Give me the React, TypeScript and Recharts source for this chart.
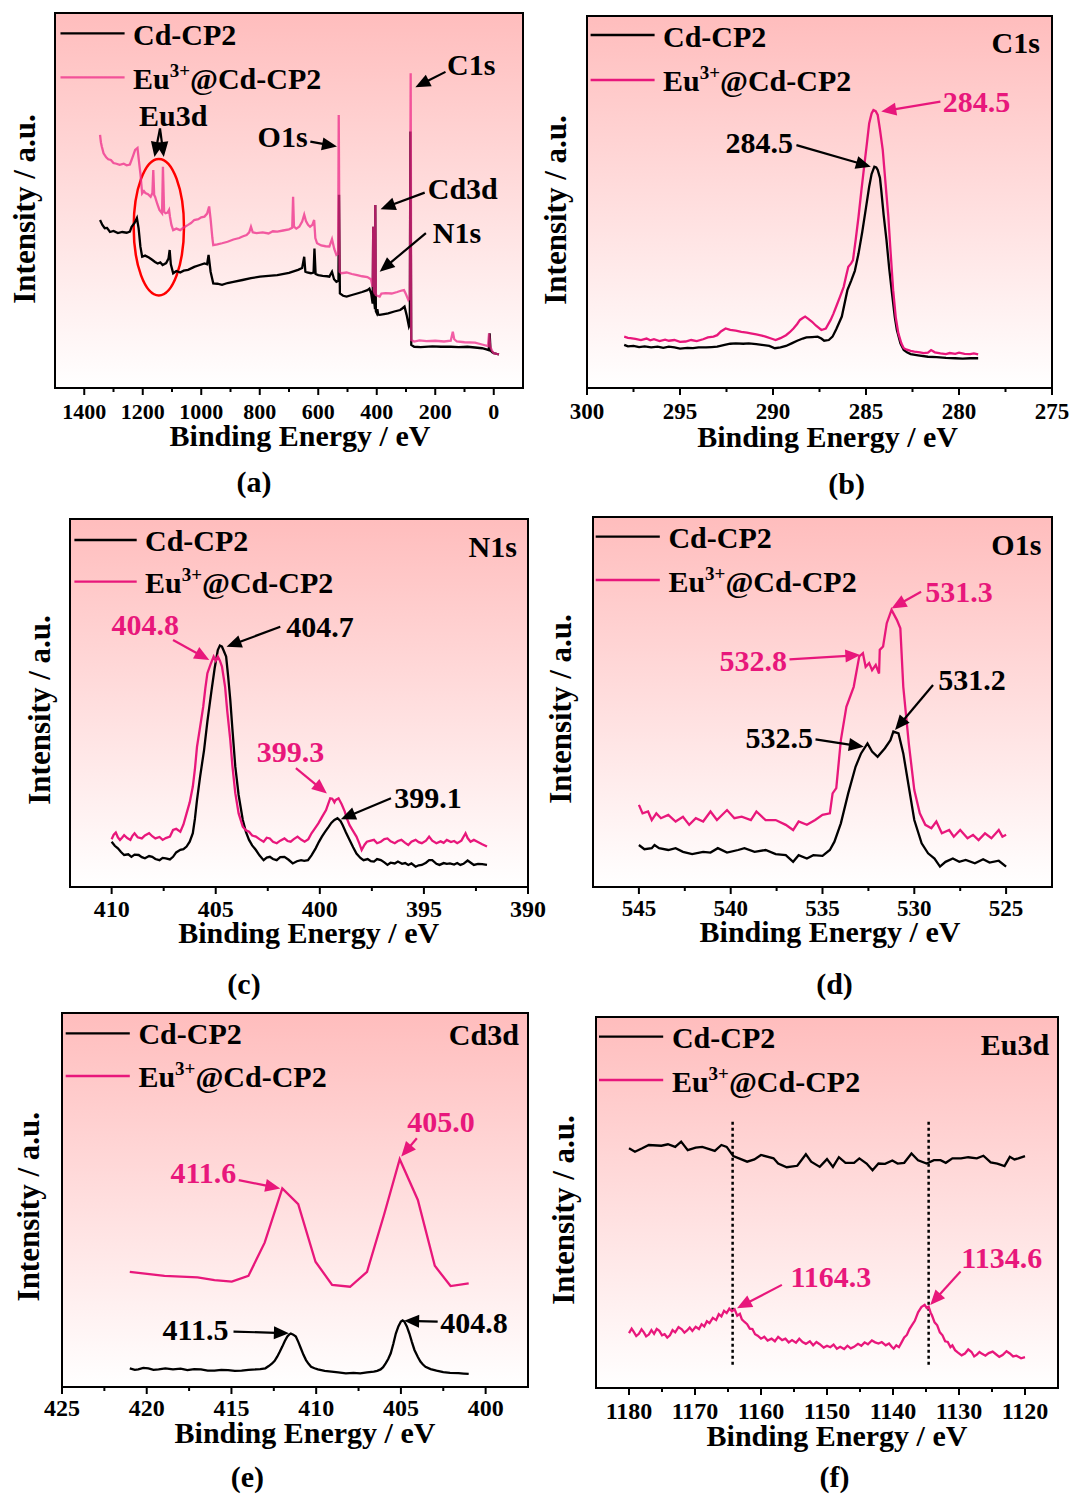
import React from 'react';
import {
  LineChart,
  Line,
  XAxis,
  YAxis,
  CartesianGrid,
  ReferenceArea,
  ReferenceLine,
  ReferenceDot,
  Legend,
} from 'recharts';

type Pt = [number, number];

const FONT = '"Liberation Serif", "Times New Roman", Times, serif';
const MAGENTA = '#e8177b';

// ---------------- (a) survey ----------------
const surveyMajor = [0, 200, 400, 600, 800, 1000, 1200, 1400];
const surveyMinor = [100, 300, 500, 700, 900, 1100, 1300];
const surveyCdCP2: Pt[] = [
  [1346, 44.8], [1338, 43.5], [1330, 42.6], [1322, 42.7], [1312, 41.6], [1300, 41.9], [1285, 41.3], [1270, 41.6],
  [1255, 41.4], [1244, 41.7], [1238, 43.0], [1228, 44.0], [1220, 45.3], [1214, 42.5], [1208, 37.7], [1202, 35.0],
  [1192, 35.3], [1179, 34.8], [1168, 34.2], [1158, 33.6], [1149, 33.2], [1140, 33.5], [1132, 32.8], [1120, 33.3],
  [1112, 34.5], [1108, 36.8], [1104, 33.0], [1096, 30.6], [1085, 31.2], [1072, 30.8], [1060, 31.3], [1045, 31.5],
  [1024, 32.3], [1005, 32.8], [989, 33.2], [980, 33.0], [975, 35.5], [968, 31.0], [959, 27.9], [945, 27.8],
  [929, 27.5], [910, 28.0], [890, 28.3], [859, 28.8], [830, 29.3], [799, 29.7], [770, 29.9], [740, 30.1],
  [700, 30.7], [669, 31.5], [655, 32.0], [648, 35.0], [644, 31.0], [638, 30.8], [625, 30.6], [616, 30.8],
  [613, 37.2], [609, 30.4], [600, 30.1], [585, 29.9], [570, 29.8], [562, 29.7], [553, 31.0], [546, 29.0],
  [538, 28.3], [531, 28.6], [529, 51.5], [526, 25.2], [515, 24.6], [503, 24.4], [485, 24.8], [467, 25.2],
  [450, 25.6], [432, 26.1], [425, 26.5], [419, 25.2], [414, 22.5], [412, 43.0], [410, 24.0], [406, 21.0],
  [405, 48.8], [403, 20.5], [400, 20.0], [398, 21.0], [395, 19.6], [390, 19.5], [375, 19.7], [361, 19.9],
  [340, 20.4], [320, 20.8], [313, 21.2], [305, 21.7], [298, 19.5], [290, 16.4], [287, 17.0], [285, 68.4],
  [282, 11.5], [272, 11.0], [250, 10.9], [210, 11.1], [180, 11.0], [147, 11.0], [120, 10.9], [90, 11.0],
  [64, 10.8], [40, 10.6], [25, 10.3], [17, 10.1], [14, 14.6], [11, 10.0], [5, 9.5], [0, 9.3], [-10, 9.1], [-18, 9.0],
];
const surveyEuCdCP2: Pt[] = [
  [1346, 67.5], [1343, 65.5], [1340, 64.4], [1334, 62.6], [1325, 61.5], [1318, 61.0], [1309, 60.8], [1300, 60.0],
  [1290, 59.8], [1279, 59.5], [1265, 59.8], [1255, 59.4], [1244, 59.6], [1235, 61.5], [1226, 63.5], [1218, 64.0],
  [1213, 60.5], [1208, 57.2], [1202, 51.9], [1196, 52.5], [1191, 52.0], [1182, 51.7], [1173, 51.0], [1167, 52.0],
  [1164, 58.1], [1161, 51.5], [1158, 51.0], [1150, 49.0], [1143, 47.5], [1138, 47.0], [1134, 46.6], [1131, 59.0],
  [1127, 47.0], [1122, 46.6], [1115, 46.8], [1110, 47.5], [1107, 45.7], [1102, 43.5], [1096, 42.1], [1085, 42.5],
  [1072, 42.1], [1060, 42.8], [1045, 43.5], [1035, 44.0], [1024, 44.8], [1010, 45.0], [1000, 45.5], [989, 45.7],
  [980, 46.5], [973, 48.4], [968, 45.0], [962, 40.0], [959, 38.1], [945, 38.3], [929, 38.6], [910, 39.0],
  [890, 39.6], [870, 40.0], [859, 40.4], [845, 40.8], [836, 41.5], [830, 43.0], [824, 41.5], [811, 41.3],
  [790, 41.5], [770, 41.2], [755, 41.8], [740, 41.7], [720, 42.0], [700, 42.3], [689, 42.7], [686, 51.0],
  [683, 43.0], [675, 42.5], [665, 43.0], [655, 44.4], [648, 46.2], [642, 44.5], [635, 43.5], [628, 43.0],
  [620, 43.5], [614, 44.8], [610, 40.0], [604, 38.6], [590, 38.0], [575, 37.8], [562, 37.7], [553, 39.7],
  [545, 37.0], [538, 35.5], [532, 35.9], [530, 72.8], [527, 31.0], [521, 30.6], [503, 30.8], [485, 30.4],
  [467, 30.1], [450, 29.8], [432, 29.6], [420, 29.0], [414, 27.0], [412, 43.0], [410, 26.0], [406, 25.0],
  [405, 48.8], [403, 24.8], [398, 24.6], [390, 24.4], [384, 25.2], [370, 25.3], [349, 25.2], [330, 25.6],
  [315, 26.0], [307, 26.1], [300, 25.0], [292, 23.5], [287, 24.0], [284, 83.9], [282, 12.8], [272, 12.4],
  [254, 12.7], [230, 12.5], [200, 12.6], [170, 12.4], [147, 12.6], [140, 15.0], [135, 13.0], [126, 12.4],
  [100, 12.2], [64, 12.1], [40, 11.6], [20, 11.2], [16, 14.6], [12, 11.0], [5, 9.8], [0, 9.3], [-10, 9.1], [-18, 9.0],
];

// ---------------- (b) C1s ----------------
const c1sMajor = [275, 280, 285, 290, 295, 300];
const c1sMinor = [277.5, 282.5, 287.5, 292.5, 297.5];
const c1sCdCP2: Pt[] = [
  [298.0, 11.6], [297.8, 11.2], [297.5, 11.3], [297.2, 11.0], [296.9, 11.2], [296.55, 10.9], [296.2, 11.1],
  [295.9, 10.8], [295.6, 11.1], [295.3, 10.9], [295.0, 10.6], [294.6, 10.8], [294.3, 10.7], [294.0, 10.9],
  [293.6, 10.9], [293.3, 11.0], [293.0, 11.1], [292.6, 11.6], [292.3, 11.9], [292.0, 12.0], [291.6, 11.9],
  [291.3, 12.0], [290.9, 11.8], [290.6, 11.6], [290.2, 11.3], [289.9, 10.7], [289.6, 10.9], [289.3, 11.3],
  [289.0, 12.0], [288.7, 12.7], [288.4, 13.3], [288.2, 13.6], [287.9, 13.7], [287.6, 13.8], [287.4, 13.3],
  [287.25, 12.7], [287.0, 12.9], [286.8, 13.8], [286.6, 15.8], [286.3, 19.2], [286.0, 26.3], [285.8, 28.8],
  [285.6, 31.5], [285.4, 36.2], [285.2, 42.0], [285.0, 48.5], [284.83, 54.1], [284.7, 57.5], [284.55, 59.5],
  [284.45, 59.3], [284.37, 58.6], [284.25, 56.5], [284.18, 53.2], [284.05, 46.5], [283.9, 39.8], [283.75, 32.0],
  [283.6, 25.4], [283.45, 19.0], [283.34, 15.6], [283.15, 12.0], [282.97, 10.2], [282.8, 9.6], [282.6, 9.1],
  [282.2, 8.8], [281.67, 8.4], [281.2, 8.3], [280.7, 8.1], [280.2, 8.0], [279.8, 7.9], [279.4, 8.0], [278.97, 8.0],
];
const c1sEuCdCP2: Pt[] = [
  [298.0, 13.8], [297.8, 13.5], [297.67, 13.4], [297.4, 13.2], [297.1, 12.9], [296.8, 13.3], [296.6, 12.8],
  [296.4, 13.1], [296.1, 12.6], [295.8, 13.0], [295.6, 12.7], [295.3, 12.9], [295.0, 12.4], [294.7, 12.5],
  [294.4, 12.9], [294.1, 12.6], [293.76, 13.1], [293.5, 13.6], [293.2, 13.8], [293.0, 14.2], [292.8, 15.2],
  [292.55, 16.0], [292.3, 15.6], [292.0, 15.4], [291.7, 15.1], [291.4, 14.9], [291.2, 14.7], [290.9, 14.4],
  [290.6, 14.1], [290.4, 13.8], [290.1, 13.3], [289.86, 12.9], [289.6, 13.4], [289.3, 14.2], [289.1, 15.0],
  [288.9, 16.0], [288.7, 17.2], [288.55, 18.3], [288.4, 18.8], [288.27, 19.2], [288.1, 18.6], [287.9, 17.8],
  [287.7, 16.8], [287.4, 15.6], [287.16, 16.0], [286.9, 18.3], [286.75, 20.0], [286.6, 21.9], [286.4, 24.5],
  [286.2, 27.2], [286.05, 30.5], [285.95, 32.6], [285.8, 33.5], [285.7, 34.4], [285.55, 40.0], [285.4, 46.1],
  [285.25, 53.0], [285.1, 59.5], [284.95, 65.8], [284.83, 71.1], [284.7, 73.8], [284.6, 74.7], [284.48, 74.4],
  [284.37, 73.4], [284.25, 69.5], [284.1, 64.0], [283.95, 55.0], [283.8, 46.1], [283.67, 36.0], [283.54, 26.3],
  [283.4, 19.0], [283.26, 14.7], [283.1, 12.0], [282.97, 10.7], [282.8, 10.3], [282.6, 10.0], [282.4, 9.8],
  [282.1, 9.6], [281.9, 9.4], [281.67, 9.5], [281.5, 10.2], [281.3, 9.6], [281.0, 9.3], [280.7, 9.1],
  [280.5, 9.4], [280.2, 9.2], [280.0, 9.5], [279.7, 9.2], [279.4, 9.1], [279.2, 9.3], [278.97, 9.05],
];

// ---------------- (c) N1s ----------------
const n1sMajor = [390, 395, 400, 405, 410];
const n1sMinor = [392.5, 397.5, 402.5, 407.5];
const n1sCdCP2: Pt[] = [
  [410.0, 12.3], [409.85, 11.2], [409.7, 10.5], [409.55, 9.5], [409.4, 8.7], [409.2, 8.9], [409.05, 8.2],
  [408.9, 8.8], [408.7, 8.7], [408.55, 8.1], [408.4, 7.8], [408.2, 8.4], [408.05, 8.2], [407.9, 7.6],
  [407.7, 7.3], [407.55, 7.9], [407.4, 7.8], [407.2, 7.5], [407.05, 8.2], [406.9, 9.4], [406.7, 10.1],
  [406.55, 10.3], [406.4, 11.0], [406.25, 12.3], [406.1, 14.6], [406.0, 18.5], [405.9, 23.6], [405.75, 30.0],
  [405.56, 37.2], [405.4, 45.0], [405.2, 53.5], [405.05, 59.5], [404.9, 64.4], [404.8, 65.6], [404.7, 65.3],
  [404.6, 64.0], [404.5, 62.6], [404.4, 57.0], [404.3, 50.8], [404.2, 43.0], [404.06, 32.7], [403.9, 25.0],
  [403.7, 18.2], [403.55, 15.0], [403.4, 12.8], [403.25, 11.3], [403.07, 10.05], [402.9, 8.6], [402.7, 7.3],
  [402.55, 8.0], [402.4, 8.2], [402.25, 7.6], [402.07, 7.3], [401.9, 8.1], [401.7, 8.2], [401.5, 7.4],
  [401.3, 6.4], [401.1, 7.0], [400.9, 7.3], [400.75, 7.1], [400.57, 7.3], [400.4, 8.6], [400.2, 10.5],
  [400.05, 12.2], [399.9, 13.7], [399.75, 15.0], [399.57, 16.4], [399.45, 17.4], [399.3, 18.2], [399.15, 18.7],
  [399.0, 17.9], [398.9, 16.8], [398.75, 14.9], [398.57, 12.8], [398.4, 10.8], [398.24, 9.1], [398.05, 7.9],
  [397.9, 7.3], [397.7, 7.6], [397.55, 7.0], [397.4, 6.9], [397.25, 7.6], [397.07, 7.3], [396.9, 6.7],
  [396.75, 6.0], [396.6, 6.6], [396.4, 6.4], [396.25, 6.9], [396.05, 6.3], [395.9, 6.5], [395.75, 6.0],
  [395.6, 6.4], [395.4, 5.5], [395.25, 5.9], [395.1, 6.0], [394.9, 6.6], [394.75, 7.3], [394.6, 7.3],
  [394.4, 6.3], [394.25, 6.0], [394.05, 6.5], [393.9, 6.3], [393.75, 6.4], [393.55, 6.1], [393.4, 6.5],
  [393.25, 6.0], [393.1, 6.3], [392.9, 7.2], [392.75, 6.6], [392.6, 6.0], [392.4, 6.3], [392.2, 6.2], [391.97, 6.0],
];
const n1sEuCdCP2: Pt[] = [
  [410.0, 13.0], [409.9, 14.2], [409.8, 14.8], [409.7, 13.5], [409.6, 12.8], [409.5, 13.4], [409.4, 14.1],
  [409.25, 13.3], [409.1, 12.8], [409.0, 13.9], [408.9, 14.6], [408.75, 13.5], [408.55, 13.2], [408.4, 14.0],
  [408.2, 14.6], [408.05, 13.8], [407.9, 13.2], [407.7, 13.6], [407.55, 12.8], [407.4, 13.3], [407.2, 13.7],
  [407.05, 15.5], [406.9, 15.8], [406.7, 15.0], [406.55, 17.0], [406.4, 20.0], [406.25, 23.0], [406.1, 27.3],
  [406.0, 32.0], [405.9, 38.1], [405.75, 43.5], [405.6, 49.0], [405.5, 54.0], [405.4, 58.1], [405.25, 60.5],
  [405.1, 62.6], [405.0, 61.5], [404.9, 62.6], [404.8, 61.5], [404.7, 59.9], [404.55, 54.4], [404.45, 48.0],
  [404.3, 39.9], [404.2, 33.0], [404.06, 25.5], [403.9, 20.0], [403.7, 16.4], [403.55, 15.4], [403.4, 15.0],
  [403.25, 14.0], [403.07, 13.7], [402.9, 13.0], [402.7, 12.3], [402.55, 13.4], [402.4, 13.2], [402.25, 12.3],
  [402.07, 11.9], [401.9, 12.6], [401.7, 13.2], [401.55, 12.5], [401.4, 12.3], [401.25, 13.0], [401.07, 13.7],
  [400.9, 12.9], [400.73, 12.3], [400.55, 13.0], [400.4, 14.6], [400.25, 15.8], [400.07, 17.3], [399.9, 19.0],
  [399.7, 20.9], [399.6, 22.5], [399.5, 24.1], [399.4, 24.0], [399.3, 23.0], [399.25, 23.6], [399.1, 24.1],
  [398.95, 22.5], [398.8, 20.5], [398.7, 18.6], [398.57, 16.8], [398.4, 15.2], [398.24, 13.7], [398.1, 11.8],
  [397.99, 10.05], [397.85, 11.5], [397.74, 12.3], [397.55, 12.6], [397.4, 12.8], [397.25, 11.9], [397.07, 12.3],
  [396.9, 13.0], [396.75, 13.2], [396.6, 12.4], [396.4, 11.9], [396.25, 12.5], [396.08, 12.8], [395.9, 12.0],
  [395.75, 11.4], [395.6, 12.3], [395.4, 12.8], [395.25, 12.2], [395.1, 11.9], [394.9, 12.6], [394.75, 13.7],
  [394.6, 12.6], [394.4, 11.9], [394.2, 12.4], [394.05, 12.0], [393.9, 12.8], [393.7, 12.2], [393.55, 12.5],
  [393.4, 11.9], [393.2, 12.6], [393.0, 14.6], [392.9, 13.3], [392.76, 12.3], [392.6, 12.8], [392.43, 12.3],
  [392.2, 11.6], [391.97, 11.0],
];

// ---------------- (d) O1s ----------------
const o1sMajor = [525, 530, 535, 540, 545];
const o1sMinor = [527.5, 532.5, 537.5, 542.5];
const o1sCdCP2: Pt[] = [
  [545.0, 11.35], [544.7, 10.2], [544.3, 10.5], [544.15, 11.35], [543.9, 10.5], [543.4, 10.0], [543.0, 10.5],
  [542.6, 9.5], [542.1, 8.9], [541.5, 9.5], [541.1, 9.3], [540.7, 10.5], [540.2, 9.3], [539.6, 10.0],
  [539.25, 10.5], [538.7, 9.5], [538.1, 10.0], [537.55, 8.9], [537.0, 8.6], [536.6, 6.8], [536.3, 8.6],
  [535.85, 7.7], [535.5, 8.6], [535.0, 8.4], [534.6, 10.0], [534.35, 12.25], [534.0, 17.2], [533.6, 25.3],
  [533.2, 32.5], [532.9, 36.1], [532.55, 38.8], [532.3, 36.6], [532.0, 35.2], [531.6, 37.5], [531.3, 39.7],
  [531.14, 42.0], [530.86, 41.5], [530.6, 36.1], [530.3, 27.1], [530.0, 18.1], [529.6, 11.8], [529.25, 9.1],
  [528.9, 7.7], [528.6, 5.5], [528.3, 6.8], [527.9, 7.7], [527.55, 6.8], [527.2, 7.3], [526.7, 6.4],
  [526.25, 7.5], [525.9, 6.6], [525.4, 7.1], [525.0, 5.5],
];
const o1sEuCdCP2: Pt[] = [
  [545.0, 22.2], [544.8, 19.9], [544.5, 20.4], [544.3, 18.1], [544.05, 19.9], [543.8, 18.6], [543.4, 19.5],
  [543.0, 17.7], [542.6, 19.0], [542.26, 16.8], [541.9, 18.6], [541.5, 17.7], [541.1, 20.4], [540.75, 18.1],
  [540.2, 20.8], [539.8, 18.6], [539.4, 19.0], [538.9, 18.1], [538.6, 20.4], [538.1, 18.1], [537.55, 18.1],
  [537.0, 16.8], [536.6, 15.4], [536.3, 17.7], [535.85, 16.8], [535.4, 18.1], [535.0, 19.5], [534.6, 19.9],
  [534.45, 25.3], [534.25, 26.7], [534.0, 39.7], [533.7, 48.7], [533.3, 54.1], [533.0, 62.3], [532.8, 63.2],
  [532.65, 59.5], [532.46, 60.5], [532.3, 58.6], [532.1, 60.0], [531.92, 57.7], [531.88, 64.1], [531.7, 65.0],
  [531.5, 71.3], [531.24, 74.9], [530.95, 72.2], [530.76, 69.9], [530.6, 54.1], [530.3, 38.8], [530.0, 26.2],
  [529.7, 19.9], [529.4, 16.8], [529.07, 15.9], [528.8, 17.7], [528.5, 14.5], [528.1, 15.4], [527.85, 13.6],
  [527.5, 15.4], [527.1, 13.2], [526.8, 14.1], [526.5, 12.7], [526.15, 14.5], [525.8, 13.2], [525.4, 15.4],
  [525.2, 13.6], [525.0, 14.1],
];

// ---------------- (e) Cd3d ----------------
const cd3dMajor = [400, 405, 410, 415, 420, 425];
const cd3dMinor = [402.5, 407.5, 412.5, 417.5, 422.5];
const cd3dCdCP2: Pt[] = [
  [421.0, 5.0], [420.7, 4.6], [420.5, 4.7], [420.2, 5.1], [419.9, 5.0], [419.6, 4.6], [419.3, 4.7], [418.9, 5.0],
  [418.45, 4.7], [418.0, 4.9], [417.6, 4.5], [417.2, 4.8], [416.8, 4.7], [416.4, 4.4], [416.0, 4.4], [415.6, 4.6],
  [415.2, 4.5], [414.8, 4.3], [414.4, 4.4], [414.0, 4.6], [413.55, 4.7], [413.3, 4.8], [413.0, 5.0], [412.8, 5.6],
  [412.6, 6.3], [412.45, 7.0], [412.3, 8.1], [412.15, 9.4], [412.0, 10.8], [411.85, 12.3], [411.7, 13.5],
  [411.6, 14.0], [411.5, 14.3], [411.35, 14.0], [411.2, 13.5], [411.05, 12.0], [410.9, 10.3], [410.75, 8.6],
  [410.6, 7.2], [410.45, 6.2], [410.3, 5.4], [410.1, 5.0], [409.9, 4.7], [409.5, 4.3], [409.1, 4.1], [408.7, 3.9],
  [408.25, 3.65], [407.8, 3.8], [407.4, 3.65], [407.0, 3.9], [406.6, 4.1], [406.4, 4.3], [406.2, 4.7],
  [406.05, 5.3], [405.9, 6.3], [405.75, 7.5], [405.6, 9.0], [405.45, 11.5], [405.3, 14.3], [405.15, 16.2],
  [405.0, 17.5], [404.9, 17.8], [404.8, 17.5], [404.65, 16.2], [404.5, 14.3], [404.35, 12.0], [404.2, 9.9],
  [404.0, 8.0], [403.85, 6.8], [403.7, 6.0], [403.55, 5.4], [403.25, 4.8], [402.9, 4.4], [402.5, 4.0],
  [402.1, 3.8], [401.6, 3.7], [401.3, 3.6], [401.0, 3.5],
];
const cd3dEuCdCP2: Pt[] = [
  [421.0, 30.8], [418.95, 29.7], [417.0, 29.3], [416.0, 28.6], [414.98, 28.2], [414.0, 29.7], [413.04, 38.6],
  [412.0, 53.1], [411.06, 48.9], [410.04, 33.5], [409.06, 27.3], [408.0, 26.8], [407.0, 30.8], [406.0, 46.0],
  [405.07, 60.9], [404.0, 50.0], [403.0, 32.4], [402.07, 27.0], [401.0, 27.7],
];

// ---------------- (f) Eu3d ----------------
const eu3dMajor = [1120, 1130, 1140, 1150, 1160, 1170, 1180];
const eu3dMinor = [1125, 1135, 1145, 1155, 1165, 1175];
const eu3dPeaks = [1164.3, 1134.6];
const eu3dCdCP2: Pt[] = [
  [1180, 64.6], [1179.1, 63.7], [1178, 64.6], [1177, 65.5], [1175.1, 65.3], [1174.1, 65.7], [1173, 65.0],
  [1172.1, 66.4], [1171.1, 64.1], [1169.9, 64.8], [1168.9, 65.0], [1167, 63.9], [1166, 65.5], [1165.2, 65.0],
  [1164.2, 62.5], [1162.1, 61.0], [1161, 61.6], [1160, 62.8], [1158.1, 61.9], [1157.4, 60.5], [1156.1, 59.5],
  [1154.5, 59.9], [1153.2, 63.0], [1152.4, 61.0], [1151.1, 59.6], [1150.0, 61.7], [1149.1, 59.6], [1148.2, 62.2],
  [1147.2, 60.7], [1145.9, 60.7], [1145.1, 61.9], [1144, 60.5], [1143.1, 58.7], [1142.2, 60.5], [1141.2, 60.4],
  [1140.1, 61.3], [1139.3, 60.5], [1138.3, 60.7], [1137.2, 63.2], [1136.2, 61.4], [1134.9, 60.5], [1133.8, 61.4],
  [1132.8, 61.4], [1132, 60.7], [1131, 61.9], [1129.7, 61.9], [1128.6, 62.2], [1127.3, 61.9], [1126.3, 62.6],
  [1125.2, 60.8], [1124.2, 60.5], [1123.1, 59.8], [1122.3, 62.3], [1121.6, 61.6], [1121, 61.9], [1120, 62.5],
];
const eu3dEuCdCP2: Pt[] = [
  [1180, 14.8], [1179.6, 16.0], [1179.3, 15.2], [1178.9, 14.0], [1178.5, 14.6], [1178.1, 15.8], [1177.75, 15.0],
  [1177.4, 13.9], [1177, 14.4], [1176.6, 15.6], [1176.2, 14.6], [1175.8, 15.9], [1175.4, 15.4], [1175, 14.2],
  [1174.6, 14.5], [1174.2, 13.6], [1173.8, 14.2], [1173.4, 15.6], [1173, 15.0], [1172.5, 16.4], [1172, 15.8],
  [1171.6, 14.9], [1171.2, 15.5], [1170.8, 16.3], [1170.4, 15.4], [1169.9, 16.5], [1169.4, 15.9], [1169, 17.2],
  [1168.6, 16.6], [1168.2, 18.0], [1167.8, 17.5], [1167.3, 18.9], [1166.8, 18.3], [1166.4, 19.9], [1166, 19.3],
  [1165.6, 20.8], [1165.2, 20.2], [1164.8, 21.4], [1164.4, 20.7], [1164, 21.2], [1163.6, 19.5], [1163.2, 20.0],
  [1162.9, 18.5], [1162.5, 17.8], [1162.1, 17.2], [1161.7, 16.0], [1161.3, 15.9], [1160.9, 14.5], [1160.5, 14.1],
  [1160, 13.3], [1159.5, 13.8], [1159, 12.8], [1158.4, 13.3], [1157.9, 12.6], [1157.4, 13.8], [1156.8, 12.9],
  [1156.3, 13.3], [1155.8, 12.3], [1155.3, 12.9], [1154.7, 12.2], [1154.2, 13.3], [1153.7, 12.4], [1153.2, 11.9],
  [1152.6, 12.6], [1152.1, 11.5], [1151.6, 12.4], [1151.1, 11.8], [1150.5, 10.9], [1150, 11.4], [1149.5, 11.0],
  [1149, 11.7], [1148.5, 10.6], [1148, 11.1], [1147.4, 10.5], [1146.9, 11.4], [1146.4, 10.7], [1145.9, 11.1],
  [1145.3, 11.9], [1144.8, 11.4], [1144.3, 12.3], [1143.8, 11.8], [1143.2, 12.8], [1142.7, 12.3], [1142.2, 12.0],
  [1141.7, 12.4], [1141.1, 11.5], [1140.6, 12.0], [1140.2, 11.1], [1139.9, 10.6], [1139.5, 11.5], [1139.1, 11.0],
  [1138.7, 12.3], [1138.3, 13.6], [1137.9, 14.3], [1137.5, 15.9], [1137.1, 17.0], [1136.7, 18.1], [1136.2, 20.4],
  [1135.7, 21.8], [1135.2, 22.4], [1134.9, 21.6], [1134.6, 21.9], [1134.3, 20.3], [1134.1, 19.6], [1133.7, 17.7],
  [1133.3, 16.9], [1132.9, 15.0], [1132.5, 14.2], [1132.1, 12.6], [1131.7, 12.4], [1131.3, 11.0], [1131, 11.5],
  [1130.6, 10.2], [1130.2, 9.6], [1129.6, 8.8], [1129.1, 9.3], [1128.6, 10.4], [1128.1, 9.7], [1127.7, 8.5],
  [1127.3, 9.0], [1126.9, 9.7], [1126.5, 9.2], [1126, 8.7], [1125.5, 9.4], [1124.9, 9.8], [1124.4, 9.1],
  [1123.9, 8.4], [1123.4, 8.9], [1122.8, 9.9], [1122.3, 9.3], [1121.8, 8.5], [1121.3, 8.7], [1120.6, 8.0],
  [1120, 8.3],
];

// ---------------- layout types ----------------
type Note = { at: Pt; text: string; color: string; anchor?: 'start' | 'middle' | 'end' };
type Arrow = { from: Pt; to: Pt; color: string };
interface PanelSpec {
  id: string;
  frame: { x: number; y: number; w: number; h: number };
  domain: [number, number];
  major: number[];
  minor: number[];
  tickFont: number;
  tickDy: number;
  black: Pt[];
  pink: Pt[];
  pinkColor: string;
  pinkOpacity: number;
  legend: { lx1: number; lx2: number; ly1: number; ly2: number; tx: number; tb1: number; tb2: number };
  notes: Note[];
  arrows: Arrow[];
  xTitle: { cx: number; base: number };
  yTitle: { bx: number; cy: number };
  caption: { text: string; cx: number; base: number };
  ellipse?: { x1: number; x2: number; y1: number; y2: number };
  dotted?: { xs: number[]; y1: number; y2: number };
}

const ML = 80;
const MT = 20;
const MR = 40;
const XH = 125;
const LW = 2.3;

const panels: PanelSpec[] = [
  {
    id: 'a',
    frame: { x: 55, y: 13, w: 468, h: 375 },
    domain: [-100, 1500],
    major: surveyMajor,
    minor: surveyMinor,
    tickFont: 22,
    tickDy: 31,
    black: surveyCdCP2,
    pink: surveyEuCdCP2,
    pinkColor: '#ee2888',
    pinkOpacity: 0.74,
    legend: { lx1: 60.5, lx2: 124.6, ly1: 33.3, ly2: 77.3, tx: 133, tb1: 45, tb2: 89 },
    notes: [
      { at: [1096, 69.9], text: 'Eu3d', color: '#000' },
      { at: [722, 64.3], text: 'O1s', color: '#000' },
      { at: [77, 83.5], text: 'C1s', color: '#000' },
      { at: [106, 50.4], text: 'Cd3d', color: '#000' },
      { at: [126, 38.7], text: 'N1s', color: '#000' },
    ],
    arrows: [
      { from: [1141, 69.2], to: [1160, 61.6], color: '#000' },
      { from: [1141, 69.2], to: [1128, 61.6], color: '#000' },
      { from: [627, 65.7], to: [536, 64.4], color: '#000' },
      { from: [165, 84.3], to: [268, 80.2], color: '#000' },
      { from: [236, 52.1], to: [387, 47.7], color: '#000' },
      { from: [232, 41.3], to: [390, 31.0], color: '#000' },
    ],
    xTitle: { cx: 300, base: 446 },
    yTitle: { bx: 34.5, cy: 209 },
    caption: { text: '(a)', cx: 254, base: 492 },
    ellipse: { x1: 1059, x2: 1231, y1: 24.7, y2: 61.1 },
  },
  {
    id: 'b',
    frame: { x: 587, y: 16, w: 465, h: 372 },
    domain: [275, 300],
    major: c1sMajor,
    minor: c1sMinor,
    tickFont: 23,
    tickDy: 31,
    black: c1sCdCP2,
    pink: c1sEuCdCP2,
    pinkColor: MAGENTA,
    pinkOpacity: 1,
    legend: { lx1: 590.6, lx2: 654.6, ly1: 35, ly2: 80, tx: 663, tb1: 46.7, tb2: 90.7 },
    notes: [
      { at: [275.65, 90.1], text: 'C1s', color: '#000', anchor: 'end' },
      { at: [279.06, 74.3], text: '284.5', color: MAGENTA },
      { at: [290.74, 63.2], text: '284.5', color: '#000' },
    ],
    arrows: [
      { from: [281.0, 77.0], to: [284.18, 74.3], color: MAGENTA },
      { from: [288.74, 65.3], to: [284.74, 59.5], color: '#000' },
    ],
    xTitle: { cx: 827.6, base: 447 },
    yTitle: { bx: 566, cy: 210 },
    caption: { text: '(b)', cx: 846.6, base: 494 },
  },
  {
    id: 'c',
    frame: { x: 70, y: 519, w: 458, h: 368 },
    domain: [390, 412],
    major: n1sMajor,
    minor: n1sMinor,
    tickFont: 24,
    tickDy: 29.8,
    black: n1sCdCP2,
    pink: n1sEuCdCP2,
    pinkColor: MAGENTA,
    pinkOpacity: 1,
    legend: { lx1: 74.4, lx2: 136.7, ly1: 540, ly2: 581.7, tx: 145, tb1: 550.7, tb2: 593.3 },
    notes: [
      { at: [390.53, 89.8], text: 'N1s', color: '#000', anchor: 'end' },
      { at: [408.38, 68.5], text: '404.8', color: MAGENTA },
      { at: [399.99, 68.0], text: '404.7', color: '#000' },
      { at: [401.41, 34.0], text: '399.3', color: MAGENTA },
      { at: [394.8, 21.4], text: '399.1', color: '#000' },
    ],
    arrows: [
      { from: [407.05, 67.1], to: [405.31, 61.7], color: MAGENTA },
      { from: [401.9, 70.7], to: [404.48, 65.3], color: '#000' },
      { from: [401.15, 32.3], to: [399.66, 25.4], color: MAGENTA },
      { from: [396.58, 24.1], to: [398.99, 18.4], color: '#000' },
    ],
    xTitle: { cx: 308.7, base: 943 },
    yTitle: { bx: 50, cy: 710 },
    caption: { text: '(c)', cx: 244, base: 994 },
  },
  {
    id: 'd',
    frame: { x: 593, y: 517, w: 459, h: 370 },
    domain: [522.5, 547.5],
    major: o1sMajor,
    minor: o1sMinor,
    tickFont: 23,
    tickDy: 28.8,
    black: o1sCdCP2,
    pink: o1sEuCdCP2,
    pinkColor: MAGENTA,
    pinkOpacity: 1,
    legend: { lx1: 595.7, lx2: 659.8, ly1: 536.7, ly2: 580, tx: 668.4, tb1: 548.3, tb2: 591.7 },
    notes: [
      { at: [523.08, 89.7], text: 'O1s', color: '#000', anchor: 'end' },
      { at: [527.56, 77.1], text: '531.3', color: MAGENTA },
      { at: [538.77, 58.5], text: '532.8', color: MAGENTA },
      { at: [526.86, 53.2], text: '531.2', color: '#000' },
      { at: [537.36, 37.5], text: '532.5', color: '#000' },
    ],
    arrows: [
      { from: [529.63, 79.8], to: [531.24, 75.3], color: MAGENTA },
      { from: [536.8, 61.5], to: [532.94, 62.7], color: MAGENTA },
      { from: [528.98, 54.6], to: [531.05, 42.4], color: '#000' },
      { from: [535.38, 39.9], to: [532.75, 37.9], color: '#000' },
    ],
    xTitle: { cx: 830, base: 942 },
    yTitle: { bx: 571, cy: 709 },
    caption: { text: '(d)', cx: 834.5, base: 994 },
  },
  {
    id: 'e',
    frame: { x: 62, y: 1013, w: 466, h: 374 },
    domain: [397.5, 425],
    major: cd3dMajor,
    minor: cd3dMinor,
    tickFont: 24,
    tickDy: 28.8,
    black: cd3dCdCP2,
    pink: cd3dEuCdCP2,
    pinkColor: MAGENTA,
    pinkOpacity: 1,
    legend: { lx1: 65.7, lx2: 129.8, ly1: 1033.3, ly2: 1076, tx: 138.4, tb1: 1044.3, tb2: 1087.3 },
    notes: [
      { at: [398.04, 91.4], text: 'Cd3d', color: '#000', anchor: 'end' },
      { at: [402.63, 68.3], text: '405.0', color: MAGENTA },
      { at: [416.66, 54.6], text: '411.6', color: MAGENTA },
      { at: [417.12, 12.6], text: '411.5', color: '#000' },
      { at: [400.69, 14.5], text: '404.8', color: '#000' },
    ],
    arrows: [
      { from: [404.06, 66.5], to: [404.98, 61.6], color: MAGENTA },
      { from: [414.57, 55.3], to: [412.12, 53.1], color: MAGENTA },
      { from: [414.88, 14.8], to: [411.61, 14.4], color: '#000' },
      { from: [402.83, 17.5], to: [404.81, 17.7], color: '#000' },
    ],
    xTitle: { cx: 305, base: 1443 },
    yTitle: { bx: 39.5, cy: 1206.7 },
    caption: { text: '(e)', cx: 247.4, base: 1487 },
  },
  {
    id: 'f',
    frame: { x: 596, y: 1017, w: 462, h: 371 },
    domain: [1115, 1185],
    major: eu3dMajor,
    minor: eu3dMinor,
    tickFont: 24,
    tickDy: 30.9,
    black: eu3dCdCP2,
    pink: eu3dEuCdCP2,
    pinkColor: MAGENTA,
    pinkOpacity: 1,
    legend: { lx1: 599, lx2: 663.2, ly1: 1036.7, ly2: 1080, tx: 671.9, tb1: 1048.3, tb2: 1091.7 },
    notes: [
      { at: [1116.33, 89.7], text: 'Eu3d', color: '#000', anchor: 'end' },
      { at: [1149.4, 27.3], text: '1164.3', color: MAGENTA },
      { at: [1123.52, 32.3], text: '1134.6', color: MAGENTA },
    ],
    arrows: [
      { from: [1156.84, 27.8], to: [1163.64, 21.5], color: MAGENTA },
      { from: [1129.77, 31.4], to: [1134.36, 22.4], color: MAGENTA },
    ],
    xTitle: { cx: 837, base: 1446 },
    yTitle: { bx: 574, cy: 1210 },
    caption: { text: '(f)', cx: 834.5, base: 1487 },
    dotted: { xs: eu3dPeaks, y1: 6.3, y2: 72.2 },
  },
];

const textStyle = { fontFamily: FONT, fontWeight: 700 as const };

function arrowShape(color: string) {
  return (p: any) => {
    const x1 = Number(p.x1);
    const y1 = Number(p.y1);
    const x2 = Number(p.x2);
    const y2 = Number(p.y2);
    const dx = x2 - x1;
    const dy = y2 - y1;
    const len = Math.hypot(dx, dy) || 1;
    const ux = dx / len;
    const uy = dy / len;
    const hl = 15;
    const hw = 6.5;
    const bx = x2 - ux * hl;
    const by = y2 - uy * hl;
    const pts = `${x2},${y2} ${bx - uy * hw},${by + ux * hw} ${bx + uy * hw},${by - ux * hw}`;
    return (
      <g>
        <line x1={x1} y1={y1} x2={bx + ux * 2} y2={by + uy * 2} stroke={color} strokeWidth={2.2} />
        <polygon points={pts} fill={color} />
      </g>
    );
  };
}

function Panel({ s }: { s: PanelSpec }) {
  const { frame } = s;
  const ox = frame.x - ML;
  const oy = frame.y - MT;
  const W = frame.w + ML + MR;
  const H = frame.h + MT + XH;
  const cx = (px: number) => px - ox;
  const cy = (py: number) => py - oy;
  const [lo, hi] = s.domain;
  const gid = `bg-${s.id}`;
  const ticks = [...s.major, ...s.minor].sort((a, b) => a - b);
  const blackData = s.black.map(([x, y]) => ({ x, y }));
  const pinkData = s.pink.map(([x, y]) => ({ x, y }));

  const renderTick = (p: any) => {
    const x = Number(p.x);
    const y = Number(p.y);
    const v = p.payload.value;
    const isMajor = s.major.includes(v);
    return (
      <g>
        <line x1={x} x2={x} y1={y} y2={y + (isMajor ? 7 : 4)} stroke="#000" strokeWidth={2} />
        {isMajor && (
          <text x={x} y={y + s.tickDy} textAnchor="middle" fontSize={s.tickFont} fill="#000" {...textStyle}>
            {v}
          </text>
        )}
      </g>
    );
  };

  const xLabel = () => (
    <g>
      <text x={cx(s.xTitle.cx)} y={cy(s.xTitle.base)} textAnchor="middle" fontSize={30} fill="#000" {...textStyle}>
        Binding Energy / eV
      </text>
      <text x={cx(s.caption.cx)} y={cy(s.caption.base)} textAnchor="middle" fontSize={30} fill="#000" {...textStyle}>
        {s.caption.text}
      </text>
    </g>
  );

  const yLabel = () => {
    const x = cx(s.yTitle.bx);
    const y = cy(s.yTitle.cy);
    return (
      <text x={x} y={y} transform={`rotate(-90 ${x} ${y})`} textAnchor="middle" fontSize={31} fill="#000" {...textStyle}>
        Intensity / a.u.
      </text>
    );
  };

  const L = s.legend;
  const legendContent = () => (
    <svg
      width={W}
      height={H}
      style={{ position: 'absolute', left: 0, top: 0, overflow: 'visible', pointerEvents: 'none' }}
    >
      <line x1={cx(L.lx1)} x2={cx(L.lx2)} y1={cy(L.ly1)} y2={cy(L.ly1)} stroke="#000" strokeWidth={LW} />
      <text x={cx(L.tx)} y={cy(L.tb1)} fontSize={30} fill="#000" {...textStyle}>
        Cd-CP2
      </text>
      <line
        x1={cx(L.lx1)}
        x2={cx(L.lx2)}
        y1={cy(L.ly2)}
        y2={cy(L.ly2)}
        stroke={s.pinkColor}
        strokeOpacity={s.pinkOpacity}
        strokeWidth={LW}
      />
      <text x={cx(L.tx)} y={cy(L.tb2)} fontSize={30} fill="#000" {...textStyle}>
        Eu
        <tspan fontSize={19} dy={-12}>
          3+
        </tspan>
        <tspan dy={12}>@Cd-CP2</tspan>
      </text>
    </svg>
  );

  return (
    <div style={{ position: 'absolute', left: ox, top: oy, width: W, height: H }}>
      <LineChart width={W} height={H} margin={{ top: MT, right: MR, bottom: 0, left: 0 }}>
        <defs>
          <linearGradient id={gid} x1="0" y1="0" x2="0" y2="1">
            <stop offset="0" stopColor="#ffbdbd" />
            <stop offset="1" stopColor="#ffffff" />
          </linearGradient>
        </defs>
        <CartesianGrid horizontal={false} vertical={false} fill={`url(#${gid})`} stroke="none" />
        <XAxis
          type="number"
          dataKey="x"
          domain={[lo, hi]}
          reversed
          allowDataOverflow
          ticks={ticks}
          interval={0}
          height={XH}
          axisLine={false}
          tickLine={false}
          tickSize={0}
          tickMargin={0}
          tick={renderTick}
          label={{ content: xLabel }}
        />
        <YAxis
          type="number"
          domain={[0, 100]}
          allowDataOverflow
          width={ML}
          tick={false}
          axisLine={false}
          tickLine={false}
          label={{ content: yLabel }}
        />
        <Legend
          layout="vertical"
          align="center"
          verticalAlign="middle"
          wrapperStyle={{ left: 0, top: 0, width: 0, height: 0, overflow: 'visible' }}
          content={legendContent}
        />
        {s.ellipse && (
          <ReferenceArea
            x1={s.ellipse.x1}
            x2={s.ellipse.x2}
            y1={s.ellipse.y1}
            y2={s.ellipse.y2}
            ifOverflow="visible"
            shape={(p: any) => (
              <ellipse
                cx={Number(p.x) + Number(p.width) / 2}
                cy={Number(p.y) + Number(p.height) / 2}
                rx={Math.abs(Number(p.width)) / 2}
                ry={Math.abs(Number(p.height)) / 2}
                fill="none"
                stroke="#ff0000"
                strokeWidth={2.5}
              />
            )}
          />
        )}
        {s.dotted &&
          s.dotted.xs.map((xv) => (
            <ReferenceLine
              key={`dot-${xv}`}
              segment={[
                { x: xv, y: s.dotted!.y1 },
                { x: xv, y: s.dotted!.y2 },
              ]}
              stroke="#000"
              strokeWidth={2.5}
              strokeDasharray="3 3"
              ifOverflow="visible"
            />
          ))}
        <Line
          data={blackData}
          dataKey="y"
          type="linear"
          stroke="#000"
          strokeWidth={LW}
          dot={false}
          activeDot={false}
          isAnimationActive={false}
          name="Cd-CP2"
        />
        <Line
          data={pinkData}
          dataKey="y"
          type="linear"
          stroke={s.pinkColor}
          strokeOpacity={s.pinkOpacity}
          strokeWidth={LW}
          dot={false}
          activeDot={false}
          isAnimationActive={false}
          name="Eu3+@Cd-CP2"
        />
        <ReferenceArea x1={lo} x2={hi} y1={0} y2={100} fill="none" stroke="#000" strokeWidth={2} ifOverflow="visible" />
        {s.arrows.map((a, i) => (
          <ReferenceLine
            key={`ar-${i}`}
            segment={[
              { x: a.from[0], y: a.from[1] },
              { x: a.to[0], y: a.to[1] },
            ]}
            ifOverflow="visible"
            shape={arrowShape(a.color)}
          />
        ))}
        {s.notes.map((n, i) => (
          <ReferenceDot
            key={`nt-${i}`}
            x={n.at[0]}
            y={n.at[1]}
            r={1}
            ifOverflow="visible"
            shape={(p: any) => (
              <text
                x={Number(p.cx)}
                y={Number(p.cy)}
                textAnchor={n.anchor ?? 'middle'}
                fontSize={30}
                fill={n.color}
                {...textStyle}
              >
                {n.text}
              </text>
            )}
          />
        ))}
      </LineChart>
    </div>
  );
}

export default function App() {
  return (
    <div
      style={{
        position: 'absolute',
        left: 0,
        top: 0,
        width: 1071,
        height: 1497,
        overflow: 'hidden',
        background: '#ffffff',
      }}
    >
      {panels.map((p) => (
        <Panel key={p.id} s={p} />
      ))}
    </div>
  );
}
